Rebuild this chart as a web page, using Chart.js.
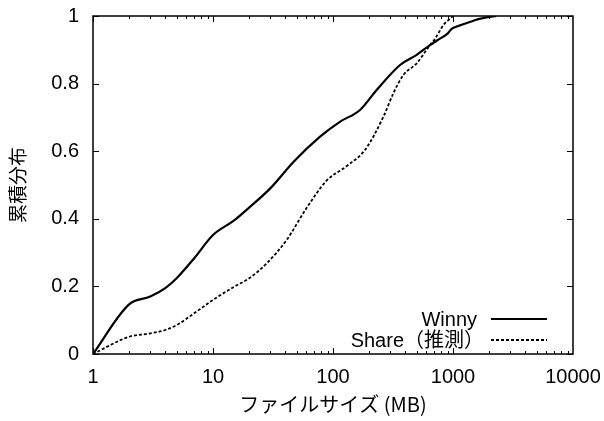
<!DOCTYPE html>
<html><head><meta charset="utf-8">
<script src="https://cdn.jsdelivr.net/npm/chart.js@4/dist/chart.umd.min.js"></script>
<style>html,body{margin:0;padding:0;background:#fff;}#wrap{width:604px;height:421px;}</style>
</head><body><div id="wrap"><canvas id="c" width="604" height="421"></canvas></div>
<script>
const seriesNames = ["Winny", "Share（推測）"];
const winnyX = [1,2,3,4,5,7,10,15,20,30,47,78,114,168,231,362,498,643,755,900,975,1100,1400,1600,1900,2300];
const winnyY = [0,0.147,0.17,0.195,0.225,0.284,0.352,0.395,0.433,0.49,0.569,0.643,0.687,0.722,0.781,0.855,0.885,0.914,0.93,0.948,0.962,0.970,0.983,0.99,0.996,1.0];
const shareX = [1,2,3,4,5,7,10,15,20,28,41,60,88,130,185,263,318,385,498,643,700,755,830,930,1000];
const shareY = [0,0.051,0.061,0.071,0.086,0.121,0.16,0.199,0.224,0.268,0.337,0.431,0.512,0.556,0.604,0.702,0.771,0.825,0.86,0.914,0.93,0.949,0.973,0.99,1.0];
const xTicks = [1,10,100,1000,10000];
const yTicks = [0,0.2,0.4,0.6,0.8,1];
const xTitle = "ファイルサイズ (MB)";
const yTitle = "累積分布";

const toPts = (xs, ys) => xs.map((x, i) => ({x: x, y: ys[i]}));
const LATIN = '"Liberation Sans", Arial, sans-serif';

const framePlugin = {
  id: 'frame',
  afterDatasetsDraw(chart) {
    const {ctx, chartArea: a, scales} = chart;
    const xs = scales.x, ys = scales.y;
    ctx.save();
    ctx.strokeStyle = '#000';
    ctx.lineWidth = 1.5;
    ctx.strokeRect(a.left, a.top, a.right - a.left, a.bottom - a.top);
    ctx.lineWidth = 1;
    ctx.beginPath();
    for (let d = 0; d < 4; d++) {
      for (let m = 1; m <= 9; m++) {
        const v = Math.pow(10, d) * m;
        const px = Math.round(xs.getPixelForValue(v)) + 0.5;
        const len = m === 1 ? 6 : 3;
        ctx.moveTo(px, a.bottom); ctx.lineTo(px, a.bottom - len);
        ctx.moveTo(px, a.top); ctx.lineTo(px, a.top + len);
      }
    }
    yTicks.forEach(v => {
      const py = Math.round(ys.getPixelForValue(v)) + 0.5;
      ctx.moveTo(a.left, py); ctx.lineTo(a.left + 6, py);
      ctx.moveTo(a.right, py); ctx.lineTo(a.right - 6, py);
    });
    ctx.stroke();
    // legend
    ctx.fillStyle = '#000';
    ctx.textAlign = 'right';
    ctx.textBaseline = 'middle';
    const rows = [319, 340];
    const textRight = [477, 484];
    chart.data.datasets.forEach((ds, i) => {
      const y = rows[i];
      ctx.font = '20px "Liberation Sans", Arial, "Noto Sans CJK JP", sans-serif';
      ctx.fillText(ds.label, textRight[i], y + 1);
      ctx.beginPath();
      ctx.lineWidth = ds.borderWidth;
      ctx.setLineDash(ds.borderDash || []);
      ctx.moveTo(491, y); ctx.lineTo(547, y);
      ctx.stroke();
      ctx.setLineDash([]);
    });
    ctx.restore();
  }
};

function zeroPad(s) { s.paddingTop = 0; s.paddingBottom = 0; s.paddingLeft = 0; s.paddingRight = 0; }

new Chart(document.getElementById('c'), {
  type: 'line',
  data: {
    datasets: [
      {label: seriesNames[0], data: toPts(winnyX, winnyY), borderColor: '#000', borderWidth: 2.2, pointRadius: 0, cubicInterpolationMode: 'monotone', fill: false},
      {label: seriesNames[1], data: toPts(shareX, shareY), borderColor: '#000', borderWidth: 1.8, borderDash: [3, 2], pointRadius: 0, cubicInterpolationMode: 'monotone', fill: false}
    ]
  },
  options: {
    responsive: false,
    animation: false,
    devicePixelRatio: 1,
    layout: {padding: {top: 16, right: 31, left: 0, bottom: 0}},
    plugins: {legend: {display: false}, tooltip: {enabled: false}},
    scales: {
      x: {
        type: 'logarithmic', min: 1, max: 10000,
        afterBuildTicks: s => { s.ticks = xTicks.map(v => ({value: v})); },
        afterFit: s => { s.height = 67; zeroPad(s); },
        grid: {display: false, drawTicks: false},
        border: {display: false},
        ticks: {color: '#000', padding: 11, maxRotation: 0, autoSkip: false,
          font: {family: LATIN, size: 20},
          callback: v => String(v)},
        title: {display: true, text: xTitle, color: '#000', padding: {top: 0, bottom: 5},
          font: {family: '"Noto Sans CJK JP", sans-serif', size: 20, lineHeight: 1.2}}
      },
      y: {
        type: 'linear', min: 0, max: 1,
        afterBuildTicks: s => { s.ticks = yTicks.map(v => ({value: v})); },
        afterFit: s => { s.width = 93; zeroPad(s); },
        grid: {display: false, drawTicks: false},
        border: {display: false},
        ticks: {color: '#000', padding: 14,
          font: {family: LATIN, size: 20},
          callback: v => String(Math.round(v * 10) / 10)},
        title: {display: true, text: yTitle, color: '#000', padding: {top: 6, bottom: 0},
          font: {family: '"Noto Sans CJK JP", sans-serif', size: 19, lineHeight: 1.2}}
      }
    }
  },
  plugins: [framePlugin]
});
</script></body></html>
